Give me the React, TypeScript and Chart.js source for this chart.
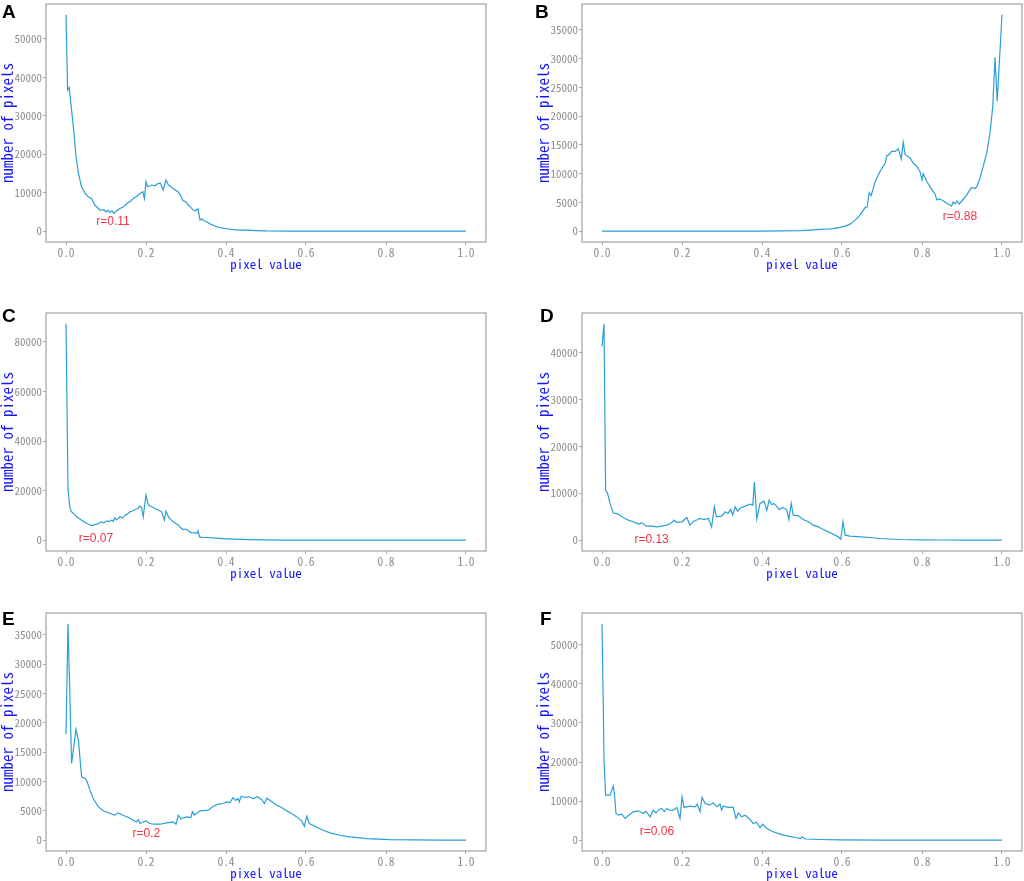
import React, { useEffect, useRef } from "react";
import { Chart, registerables } from "chart.js";
Chart.register(...registerables);

// ---------- data ----------
const xTickValues = [0, 0.2, 0.4, 0.6, 0.8, 1.0];

const xA = [0, 0.004, 0.008, 0.014, 0.02, 0.025, 0.031, 0.039, 0.048, 0.056,
  0.064, 0.072, 0.085, 0.095, 0.1, 0.105, 0.11, 0.115, 0.12, 0.125,
  0.135, 0.145, 0.152, 0.16, 0.168, 0.176, 0.185, 0.192, 0.196, 0.2,
  0.204, 0.214, 0.222, 0.23, 0.236, 0.243, 0.25, 0.256, 0.262, 0.268,
  0.275, 0.28, 0.286, 0.292, 0.3, 0.305, 0.312, 0.318, 0.324, 0.33,
  0.335, 0.339, 0.345, 0.352, 0.36, 0.368, 0.376, 0.385, 0.395, 0.402,
  0.418, 0.435, 0.45, 0.475, 0.5, 0.55, 0.6, 0.7, 0.8, 0.9, 1.0];
const yA = [56250, 36700, 37400, 31500, 25500, 19350, 15100, 11500, 9800, 8900,
  8500, 6800, 5500, 5600, 5000, 5400, 4900, 5300, 4600, 5200,
  5900, 6400, 7200, 7700, 8500, 9000, 9800, 10250, 8500, 12850,
  11550, 12000, 11800, 12400, 12500, 10700, 13300, 12000, 11600, 11100,
  10600, 10250, 9400, 8050, 7600, 6800, 6200, 5500, 5300, 5800,
  2850, 3200, 2700, 2400, 1900, 1560, 1200, 960, 750, 630,
  400, 300, 250, 150, 60, 20, 10, 5, 3, 2, 1];
const yTicksA = [0, 10000, 20000, 30000, 40000, 50000];

const xB = [0, 0.1, 0.2, 0.3, 0.4, 0.45, 0.5, 0.52, 0.545, 0.565,
  0.578, 0.595, 0.608, 0.62, 0.633, 0.645, 0.658, 0.663, 0.668, 0.673,
  0.677, 0.683, 0.695, 0.708, 0.712, 0.718, 0.724, 0.733, 0.741, 0.748,
  0.753, 0.758, 0.77, 0.778, 0.787, 0.795, 0.8, 0.803, 0.812, 0.82,
  0.828, 0.832, 0.837, 0.842, 0.85, 0.862, 0.874, 0.878, 0.883, 0.887,
  0.893, 0.903, 0.912, 0.92, 0.924, 0.933, 0.937, 0.945, 0.953, 0.962,
  0.97, 0.977, 0.9825, 0.988, 1.0];
const yB = [0, 0, 5, 10, 20, 40, 100, 180, 300, 380,
  450, 650, 875, 1225, 1925, 2800, 4150, 4200, 6700, 6200,
  7175, 8630, 10380, 11850, 13125, 13300, 13880, 13880, 14300, 12550,
  15450, 13300, 12720, 11850, 11250, 10380, 8925, 9975, 8630, 7750,
  6880, 6600, 5425, 5600, 5425, 4850, 4375, 5075, 4750, 5250,
  4700, 5550, 6300, 7175, 7600, 7400, 7750, 9220, 11250, 13600,
  17100, 21750, 30200, 22600, 37600];
const yTicksB = [0, 5000, 10000, 15000, 20000, 25000, 30000, 35000];

const xC = [0, 0.005, 0.01, 0.014, 0.02, 0.027, 0.039, 0.052, 0.064, 0.077,
  0.089, 0.095, 0.102, 0.108, 0.114, 0.118, 0.122, 0.126, 0.135, 0.142,
  0.148, 0.154, 0.16, 0.167, 0.173, 0.18, 0.185, 0.189, 0.193, 0.2,
  0.206, 0.214, 0.22, 0.227, 0.233, 0.239, 0.246, 0.25, 0.256, 0.262,
  0.268, 0.275, 0.281, 0.287, 0.293, 0.3, 0.307, 0.314, 0.32, 0.327,
  0.33, 0.334, 0.34, 0.352, 0.365, 0.377, 0.39, 0.405, 0.418, 0.44,
  0.46, 0.5, 0.54, 0.6, 0.7, 0.8, 0.9, 1.0];
const yC = [87270, 20900, 12800, 11450, 10600, 9430, 8080, 6730, 5920, 6460,
  7400, 7000, 7800, 7500, 8080, 7600, 9000, 8200, 9430, 9000,
  10100, 10600, 11450, 11900, 12400, 12800, 13740, 13200, 9430, 18180,
  14140, 13470, 13000, 12400, 12000, 11450, 8080, 11720, 9430, 8400,
  7400, 6700, 6060, 5000, 4310, 4500, 3600, 2960, 3100, 2690,
  3770, 1300, 1150, 1080, 950, 800, 650, 500, 400, 300,
  200, 100, 50, 30, 15, 8, 4, 2];
const yTicksC = [0, 20000, 40000, 60000, 80000];

const xD = [0, 0.005, 0.009, 0.014, 0.02, 0.028, 0.04, 0.053, 0.066, 0.078,
  0.091, 0.1, 0.11, 0.124, 0.137, 0.149, 0.162, 0.174, 0.18, 0.187,
  0.2, 0.212, 0.22, 0.228, 0.237, 0.245, 0.255, 0.266, 0.274, 0.281,
  0.286, 0.299, 0.308, 0.315, 0.322, 0.327, 0.333, 0.339, 0.345, 0.358,
  0.37, 0.377, 0.381, 0.387, 0.395, 0.405, 0.412, 0.418, 0.424, 0.43,
  0.437, 0.443, 0.452, 0.462, 0.467, 0.473, 0.478, 0.491, 0.503, 0.516,
  0.528, 0.541, 0.553, 0.566, 0.578, 0.591, 0.597, 0.6025, 0.608, 0.62,
  0.645, 0.67, 0.695, 0.745, 0.795, 0.85, 0.9, 1.0];
const yD = [41300, 46150, 10680, 9980, 7840, 5830, 5560, 4850, 4270, 3920,
  3420, 3700, 2990, 2990, 2850, 2990, 3200, 3700, 4270, 3800,
  3920, 4850, 3200, 4000, 4300, 4630, 4400, 4630, 2850, 7120,
  4990, 5130, 6050, 5700, 6560, 5350, 7120, 6200, 6800, 7260,
  7690, 7480, 12400, 4500, 7840, 8330, 6410, 8550, 7600, 7800,
  7200, 6560, 7000, 6410, 4420, 7840, 5340, 5200, 4420, 3920,
  3200, 2850, 2280, 1780, 1280, 710, 210, 3920, 1070, 855,
  710, 570, 360, 150, 70, 40, 20, 0];
const yTicksD = [0, 10000, 20000, 30000, 40000];

const xE = [0, 0.005, 0.014, 0.025, 0.031, 0.039, 0.048, 0.051, 0.06, 0.068,
  0.081, 0.093, 0.11, 0.122, 0.13, 0.143, 0.156, 0.168, 0.176, 0.181,
  0.185, 0.193, 0.2, 0.208, 0.218, 0.235, 0.252, 0.268, 0.275, 0.281,
  0.287, 0.302, 0.312, 0.316, 0.321, 0.335, 0.356, 0.368, 0.381, 0.393,
  0.402, 0.41, 0.418, 0.424, 0.43, 0.433, 0.438, 0.448, 0.458, 0.468,
  0.478, 0.489, 0.496, 0.502, 0.514, 0.527, 0.539, 0.552, 0.564, 0.577,
  0.589, 0.596, 0.602, 0.608, 0.622, 0.639, 0.66, 0.685, 0.71, 0.752,
  0.81, 0.87, 0.935, 1.0];
const yE = [18100, 36870, 13100, 18900, 17070, 10810, 10520, 10300, 8540, 7120,
  5690, 5010, 4550, 4270, 4670, 4270, 3870, 3410, 3100, 3500,
  2850, 3100, 3300, 2900, 2730, 2730, 2960, 3130, 2730, 4270,
  3640, 3980, 3870, 4840, 4270, 5010, 5120, 5800, 6150, 6260,
  6540, 6400, 7290, 6800, 7100, 6540, 7510, 7290, 7400, 7050,
  7400, 6940, 6260, 7170, 6600, 5970, 5580, 5000, 4550, 3980,
  3300, 2390, 4100, 2850, 2390, 1830, 1250, 850, 570, 290,
  120, 50, 20, 10];
const yTicksE = [0, 5000, 10000, 15000, 20000, 25000, 30000, 35000];

const xF = [0, 0.003, 0.005, 0.009, 0.02, 0.028, 0.031, 0.035, 0.041, 0.049,
  0.058, 0.066, 0.078, 0.091, 0.103, 0.11, 0.12, 0.128, 0.135, 0.142,
  0.149, 0.156, 0.162, 0.17, 0.178, 0.187, 0.195, 0.2, 0.205, 0.22,
  0.233, 0.238, 0.245, 0.25, 0.258, 0.27, 0.278, 0.287, 0.295, 0.299,
  0.303, 0.316, 0.328, 0.335, 0.341, 0.349, 0.358, 0.37, 0.378, 0.386,
  0.395, 0.402, 0.412, 0.428, 0.445, 0.462, 0.483, 0.497, 0.5, 0.508,
  0.545, 0.595, 0.7, 0.8, 0.9, 1.0];
const yF = [55380, 35900, 20500, 11540, 11540, 13850, 12000, 6840, 6410, 6670,
  5560, 6300, 7260, 7520, 6840, 7400, 5980, 7690, 7000, 7800,
  8120, 7300, 8120, 7600, 7690, 8380, 5560, 11110, 8380, 8720,
  8550, 9230, 7260, 10940, 9400, 8970, 9570, 8550, 9230, 7690,
  8720, 8380, 8380, 5560, 7010, 5980, 6410, 5300, 4270, 4600,
  3250, 4100, 3000, 2140, 1540, 1110, 680, 430, 850, 300,
  170, 85, 30, 15, 8, 0];
const yTicksF = [0, 10000, 20000, 30000, 40000, 50000];

const panelLetters = ["A", "B", "C", "D", "E", "F"];
const rValues = ["r=0.11", "r=0.88", "r=0.07", "r=0.13", "r=0.2", "r=0.06"];
const rLabelX = [0.1175, 0.895, 0.075, 0.124, 0.201, 0.1375];
const rLabelY = [2340, 2500, 690, 150, 1140, 2130];
const xTitle = "pixel value";
const yTitle = "number of pixels";

const seriesX = [xA, xB, xC, xD, xE, xF];
const seriesY = [yA, yB, yC, yD, yE, yF];
const yTickSets = [yTicksA, yTicksB, yTicksC, yTicksD, yTicksE, yTicksF];

// ---------- layout / style ----------
const CANVAS_W = 488;
const CANVAS_H = 272;
const COL_LEFT = [0, 536];
const ROW_TOP = [0, 309, 609];
const LETTER_POS = [
  [2, 2], [535, 2], [2, 306], [540, 306], [2, 609], [540, 609],
];
const LINE_COLOR = "#2a9fd6";
const FRAME_COLOR = "#a8a8a8";
const TICK_COLOR = "#8c8c8c";
const TITLE_COLOR = "#1515ff";
const NOTE_COLOR = "#f23545";
const MONO = '"Noto Sans Mono CJK SC", "DejaVu Sans Mono", monospace';
const SANS = '"Liberation Sans", Arial, sans-serif';

const framePlugin = {
  id: "frame",
  afterDatasetsDraw(chart: any) {
    const { ctx, chartArea: a } = chart;
    ctx.save();
    ctx.strokeStyle = FRAME_COLOR;
    ctx.lineWidth = 1.3;
    ctx.strokeRect(a.left, a.top, a.right - a.left, a.bottom - a.top);
    ctx.restore();
  },
};

function Panel({ idx }: { idx: number }) {
  const ref = useRef<HTMLCanvasElement>(null);
  useEffect(() => {
    const xs = seriesX[idx];
    const ys = seriesY[idx];
    const yTicks = yTickSets[idx];
    const dMax = Math.max(...ys);
    const dMin = Math.min(...ys);
    const span = dMax - dMin;
    const notePlugin = {
      id: "note",
      afterDatasetsDraw(chart: any) {
        const { ctx } = chart;
        const px = chart.scales.x.getPixelForValue(rLabelX[idx]);
        const py = chart.scales.y.getPixelForValue(rLabelY[idx]);
        ctx.save();
        ctx.fillStyle = NOTE_COLOR;
        ctx.font = `12px ${SANS}`;
        ctx.textAlign = "center";
        ctx.textBaseline = "middle";
        ctx.fillText(rValues[idx], px, py);
        ctx.restore();
      },
    };
    const chart = new Chart(ref.current as HTMLCanvasElement, {
      type: "line",
      data: {
        datasets: [
          {
            data: xs.map((x, i) => ({ x, y: ys[i] })),
            borderColor: LINE_COLOR,
            borderWidth: 1.2,
            pointRadius: 0,
            tension: 0,
            fill: false,
          },
        ],
      },
      options: {
        animation: false,
        responsive: false,
        devicePixelRatio: 1,
        layout: { padding: { top: 4, right: 2, left: 0, bottom: 0 } },
        plugins: { legend: { display: false }, tooltip: { enabled: false } },
        scales: {
          x: {
            type: "linear",
            min: -0.05,
            max: 1.05,
            afterBuildTicks: (s: any) => {
              s.ticks = xTickValues.map((v) => ({ value: v }));
            },
            afterFit: (s: any) => {
              s.height = 30;
              s.paddingLeft = 0;
              s.paddingRight = 0;
            },
            grid: { drawOnChartArea: false, drawTicks: true, tickLength: 3, color: FRAME_COLOR },
            border: { display: false },
            ticks: {
              autoSkip: false,
              maxRotation: 0,
              padding: 1,
              color: TICK_COLOR,
              font: { family: MONO, size: 11.5 },
              callback: (v: any) => Number(v).toFixed(1),
            },
            title: {
              display: true,
              text: xTitle,
              color: TITLE_COLOR,
              font: { family: MONO, size: 13 },
              padding: { top: 0, bottom: 0.5 },
            },
          },
          y: {
            type: "linear",
            min: dMin - 0.05 * span,
            max: dMax + 0.05 * span,
            afterBuildTicks: (s: any) => {
              s.ticks = yTicks.map((v) => ({ value: v }));
            },
            afterFit: (s: any) => {
              s.width = 46;
              s.paddingTop = 0;
              s.paddingBottom = 0;
            },
            grid: { drawOnChartArea: false, drawTicks: true, tickLength: 3, color: FRAME_COLOR },
            border: { display: false },
            ticks: {
              autoSkip: false,
              padding: 1,
              color: TICK_COLOR,
              font: { family: MONO, size: 11 },
              callback: (v: any) => String(v),
            },
            title: {
              display: true,
              text: yTitle,
              color: TITLE_COLOR,
              font: { family: MONO, size: 15 },
              padding: { top: -1.5, bottom: 0 },
            },
          },
        },
      },
      plugins: [framePlugin, notePlugin],
    } as any);
    return () => chart.destroy();
  }, [idx]);

  const col = idx % 2;
  const row = Math.floor(idx / 2);
  return (
    <canvas
      ref={ref}
      width={CANVAS_W}
      height={CANVAS_H}
      style={{
        position: "absolute",
        left: COL_LEFT[col],
        top: ROW_TOP[row],
        width: CANVAS_W,
        height: CANVAS_H,
      }}
    />
  );
}

export default function App() {
  return (
    <div
      style={{
        position: "absolute",
        left: 0,
        top: 0,
        width: 1024,
        height: 881,
        background: "#ffffff",
        overflow: "hidden",
      }}
    >
      {panelLetters.map((_, i) => (
        <Panel key={i} idx={i} />
      ))}
      {panelLetters.map((L, i) => (
        <div
          key={"l" + i}
          style={{
            position: "absolute",
            left: LETTER_POS[i][0],
            top: LETTER_POS[i][1],
            font: 'bold 19px "Liberation Sans", Arial, sans-serif',
            lineHeight: "19px",
            color: "#000",
          }}
        >
          {L}
        </div>
      ))}
    </div>
  );
}
